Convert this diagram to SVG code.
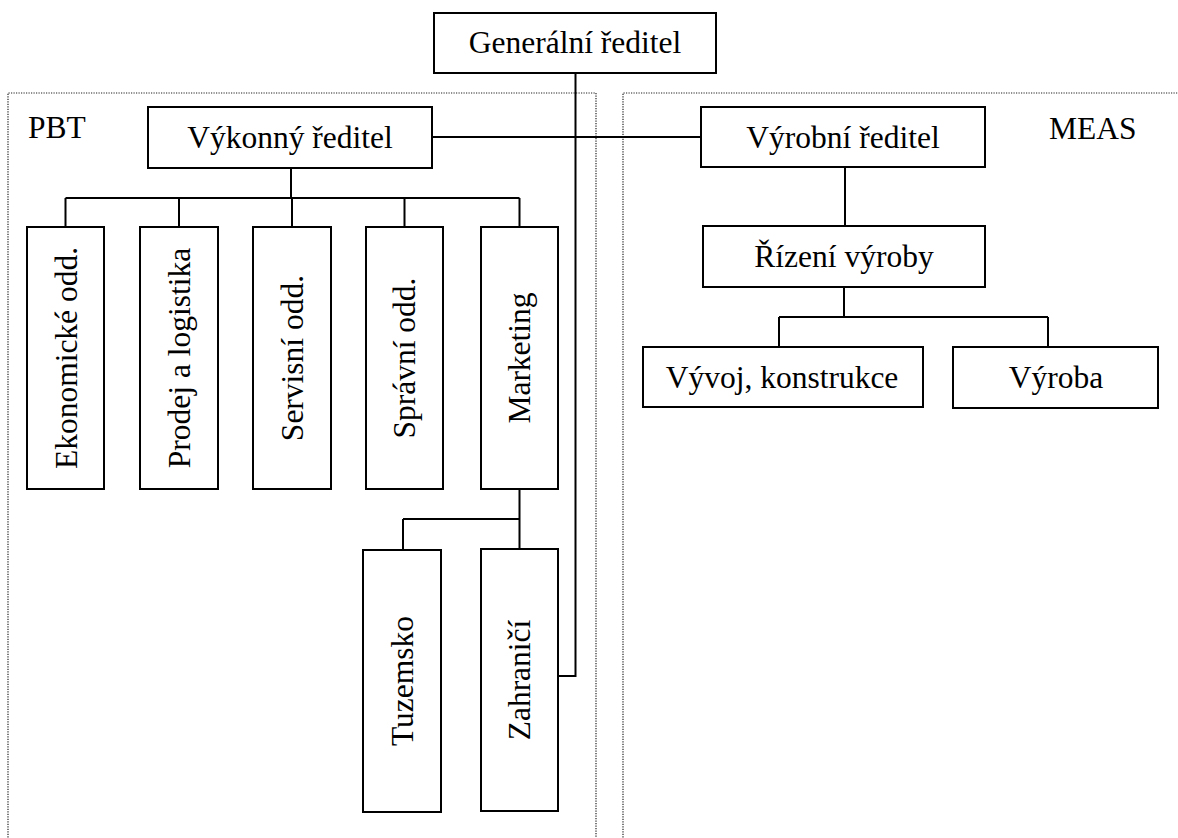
<svg xmlns="http://www.w3.org/2000/svg" width="1178" height="838" viewBox="0 0 1178 838">
<style>
.box{fill:#fff;stroke:#000;stroke-width:2}
.t{font-family:"Liberation Serif","Times New Roman",serif;font-size:31.5px;fill:#000;text-anchor:middle}
.lbl{font-family:"Liberation Serif","Times New Roman",serif;font-size:31.5px;fill:#000}
.c{fill:none;stroke:#000;stroke-width:2}
.dot{fill:none;stroke:#222;stroke-width:1.2;stroke-dasharray:1.2 1.3}
</style>
<rect width="1178" height="838" fill="#fff"/>
<g id="regions">
<path class="dot" d="M8,845 V93 H596 V845"/>
<path class="dot" d="M623,845 V93 H1185"/>
<text class="lbl" x="28" y="138">PBT</text>
<text class="lbl" x="1049" y="139">MEAS</text>
</g>
<g id="connectors">
<path class="c" d="M575.5,73 V676 H558"/>
<path class="c" d="M432,137 H701"/>
<path class="c" d="M291,168 V198 M65.5,198 H519.5 M65.5,198 V227 M179,198 V227 M292,198 V227 M404.5,198 V227 M519.5,198 V227"/>
<path class="c" d="M519.5,489 V549 M403,519 H519.5 M403,519 V550"/>
<path class="c" d="M845,167 V226"/>
<path class="c" d="M844,287 V317 M779,317 H1048 M779,317 V347 M1048,317 V347"/>
</g>
<g id="generalni">
<rect class="box" x="434" y="13" width="282" height="60"/>
<text class="t" x="575" y="53">Generální ředitel</text>
</g>
<g id="vykonny">
<rect class="box" x="148" y="107" width="284" height="61"/>
<text class="t" x="290" y="148">Výkonný ředitel</text>
</g>
<g id="vyrobni">
<rect class="box" x="701" y="107" width="284" height="60"/>
<text class="t" x="843" y="148">Výrobní ředitel</text>
</g>
<g id="rizeni">
<rect class="box" x="703" y="226" width="282" height="61"/>
<text class="t" x="844" y="267">Řízení výroby</text>
</g>
<g id="vyvoj">
<rect class="box" x="643" y="347" width="280" height="60"/>
<text class="t" x="782" y="388">Vývoj, konstrukce</text>
</g>
<g id="vyroba">
<rect class="box" x="953" y="347" width="205" height="61"/>
<text class="t" x="1056" y="388">Výroba</text>
</g>
<g id="ekonomicke">
<rect class="box" x="27" y="227" width="77" height="262"/>
<text class="t" transform="translate(76.5,358) rotate(-90)">Ekonomické odd.</text>
</g>
<g id="prodej">
<rect class="box" x="140" y="227" width="78" height="262"/>
<text class="t" transform="translate(189.5,358) rotate(-90)">Prodej a logistika</text>
</g>
<g id="servisni">
<rect class="box" x="253" y="227" width="78" height="262"/>
<text class="t" transform="translate(302.5,358) rotate(-90)">Servisní odd.</text>
</g>
<g id="spravni">
<rect class="box" x="366" y="227" width="77" height="262"/>
<text class="t" transform="translate(415,358) rotate(-90)">Správní odd.</text>
</g>
<g id="marketing">
<rect class="box" x="481" y="227" width="77" height="262"/>
<text class="t" transform="translate(530,358) rotate(-90)">Marketing</text>
</g>
<g id="tuzemsko">
<rect class="box" x="363" y="550" width="78" height="262"/>
<text class="t" transform="translate(412.5,681) rotate(-90)">Tuzemsko</text>
</g>
<g id="zahranici">
<rect class="box" x="481" y="549" width="77" height="262"/>
<text class="t" transform="translate(530,680) rotate(-90)">Zahraničí</text>
</g>
</svg>
